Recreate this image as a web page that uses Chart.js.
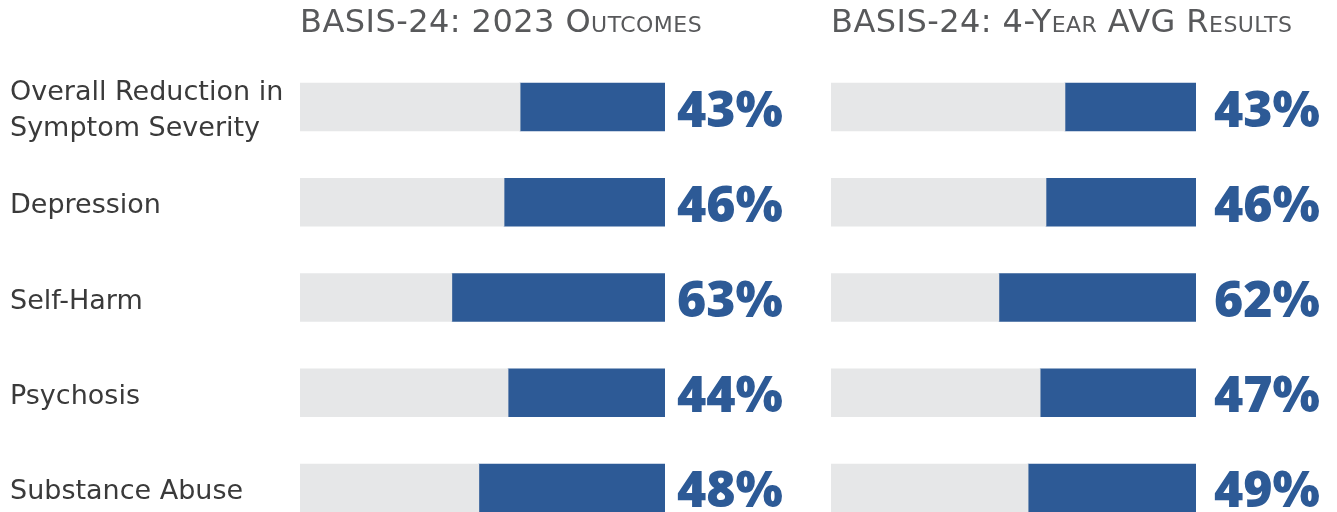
<!DOCTYPE html>
<html>
<head>
<meta charset="utf-8">
<script src="https://cdn.jsdelivr.net/npm/chart.js@4"></script>
<style>
  html, body { margin: 0; padding: 0; background: #ffffff; }
  body { width: 1337px; height: 512px; overflow: hidden; position: relative; }
  .panel { position: absolute; top: 0; }
  #leftPanel { left: 0; }
  #rightPanel { left: 831px; }
</style>
</head>
<body>
<div class="panel" id="leftPanel"><canvas id="chart2023" width="800" height="560"></canvas></div>
<div class="panel" id="rightPanel"><canvas id="chartAvg" width="506" height="560"></canvas></div>
<script>
// ---- data ----
const categories = [
  ['Overall Reduction in', 'Symptom Severity'],
  'Depression',
  'Self-Harm',
  'Psychosis',
  'Substance Abuse'
];
const titles = ['BASIS-24: 2023 Outcomes', 'BASIS-24: 4-Year AVG Results'];
// filled (blue) share of each track, as drawn, in % of the track
const fill2023 = [39.7, 44.1, 58.4, 43.0, 51.0];
const fillAvg  = [35.9, 41.1, 54.0, 42.7, 46.0];
// printed value labels
const label2023 = ['43%', '46%', '63%', '44%', '48%'];
const labelAvg  = ['43%', '46%', '62%', '47%', '49%'];
const trackMax = 100;

// ---- styles ----
const BLUE = '#2d5a96';
const TRACK = '#e6e7e8';
const LABEL_FONT = { family: '"DejaVu Sans", sans-serif', size: 27 };
const TITLE_FONT = 'small-caps 32px "DejaVu Sans", sans-serif';
const VALUE_FONT = '800 50px "Open Sans", sans-serif';

const panelDecor = {
  id: 'panelDecor',
  afterDatasetsDraw(chart, args, opts) {
    const ctx = chart.ctx;
    const area = chart.chartArea;
    ctx.save();
    ctx.textAlign = 'left';
    ctx.textBaseline = 'alphabetic';
    ctx.font = opts.titleFont;
    ctx.fillStyle = opts.titleColor;
    if ('letterSpacing' in ctx) ctx.letterSpacing = opts.titleSpacing;
    ctx.fillText(opts.title, area.left, opts.titleBaseline);
    if ('letterSpacing' in ctx) ctx.letterSpacing = '0px';
    const meta = chart.getDatasetMeta(1);
    ctx.font = opts.valueFont;
    ctx.fillStyle = opts.valueColor;
    meta.data.forEach((bar, i) => {
      ctx.fillText(opts.labels[i], bar.x + opts.valueGap, bar.y + opts.valueShift);
    });
    ctx.restore();
  }
};

function makeChart(canvasId, fills, labels, title, showCategories, padding, valueGap) {
  const yScale = {
    display: showCategories,
    stacked: true,
    grid: { display: false, drawTicks: false },
    border: { display: false },
    ticks: {
      crossAlign: 'far',
      padding: 0,
      labelOffset: 4,
      color: '#3a3a3a',
      font: Object.assign({ lineHeight: 1.3 }, LABEL_FONT)
    }
  };
  if (showCategories) {
    yScale.afterFit = function (scale) {
      scale.width = 290;
      scale.paddingTop = 0;
      scale.paddingBottom = 0;
    };
  }
  return new Chart(document.getElementById(canvasId), {
    type: 'bar',
    data: {
      labels: categories,
      datasets: [
        {
          label: 'remainder',
          data: fills.map(v => trackMax - v),
          backgroundColor: TRACK,
          borderWidth: 0,
          barThickness: 48
        },
        {
          label: 'reduction',
          data: fills,
          backgroundColor: BLUE,
          borderWidth: 0,
          barThickness: 48
        }
      ]
    },
    options: {
      indexAxis: 'y',
      responsive: false,
      animation: false,
      events: [],
      layout: { padding: padding },
      scales: {
        x: { display: false, stacked: true, min: 0, max: trackMax },
        y: yScale
      },
      plugins: {
        legend: { display: false },
        tooltip: { enabled: false },
        panelDecor: {
          title: title,
          titleFont: TITLE_FONT,
          titleColor: '#58595b',
          titleSpacing: '0.45px',
          titleBaseline: 32,
          labels: labels,
          valueFont: VALUE_FONT,
          valueColor: BLUE,
          valueGap: valueGap,
          valueShift: 19.5
        }
      }
    },
    plugins: [panelDecor]
  });
}

makeChart('chart2023', fill2023, label2023, titles[0], true,
  { left: 10, right: 135, top: 59.4, bottom: 24.4 }, 12);
makeChart('chartAvg', fillAvg, labelAvg, titles[1], false,
  { left: 0, right: 141, top: 59.4, bottom: 24.4 }, 18);
</script>
</body>
</html>
